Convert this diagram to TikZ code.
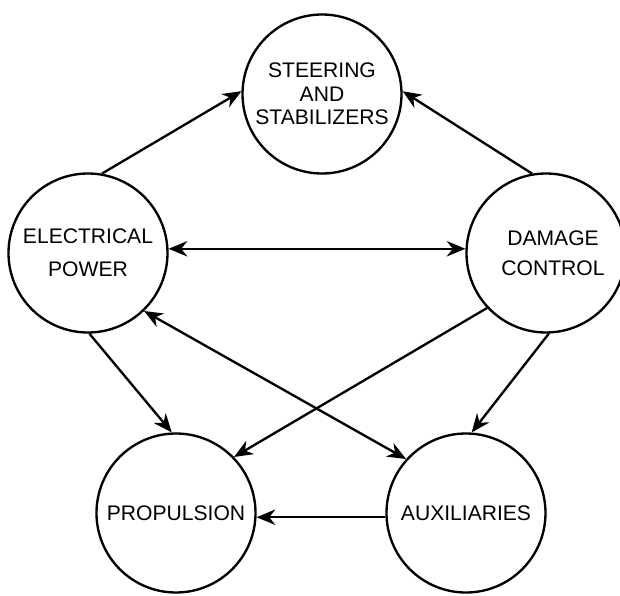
\documentclass[tikz,border=0pt]{standalone}
\usepackage{fontspec}
\setmainfont{Liberation Sans}
\usetikzlibrary{arrows.meta, positioning}

\begin{document}
\begin{tikzpicture}[x=0.3mm, y=-0.3mm,
      >={Stealth[length=5.6mm, width=4.6mm, inset=1.8mm]},
      system/.style={draw, circle, line width=2pt, minimum size=47.7mm, inner sep=0pt,
                     align=center, font=\fontsize{18}{20}\selectfont},
      flow/.style={->, line width=2pt},
      both/.style={<->, line width=2pt}
    ]
    \useasboundingbox (0,0) rectangle (620,596);

    % Systeme
    \node[system] (steer) at (322,94)  {STEERING\\AND\\STABILIZERS};
    \node[system] (elec)  at (88,253)  {ELECTRICAL\\[8pt]POWER};
    \node[system] (dmg)   at (546,253) {\hspace*{12pt}DAMAGE\\[6pt]\hspace*{12pt}CONTROL};
    \node[system] (prop)  at (176,513) {PROPULSION};
    \node[system] (aux)   at (466,513) {AUXILIARIES};

    % Verbindungen
    \draw[flow] (elec.80)  -- (steer.178);
    \draw[flow] (dmg.100)  -- (steer.2);
    \draw[both] (elec.3)   -- (dmg.177);
    \draw[both] (elec.314) -- (aux.138);
    \draw[flow] (elec.271) -- (prop.93);
    \draw[flow] (dmg.223)  -- (prop.44);
    \draw[flow] (dmg.272)  -- (aux.86);
    \draw[flow] (aux.183)  -- (prop.357);
  \end{tikzpicture}
\end{document}
